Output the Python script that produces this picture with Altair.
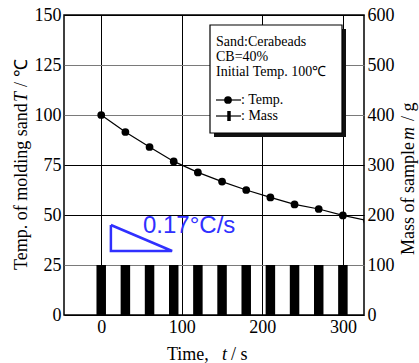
import altair as alt
import pandas as pd

# Temperature of the molding sand (sampled every 30 s)
time_s = [0, 30, 60, 90, 120, 150, 180, 210, 240, 270, 300, 330]
temp_c = [100.0, 91.5, 84.0, 76.8, 71.3, 66.7, 62.5, 58.8, 55.3, 53.0, 49.8, 47.2]

# Mass of the sample at each weighing
mass_time_s = [0, 30, 60, 90, 120, 150, 180, 210, 240, 270, 300]
mass_g = [100, 100, 100, 100, 100, 100, 100, 100, 100, 100, 100]

# Slope triangle (cooling rate guide) and its label
slope_t = [12, 12, 88, 12]
slope_T = [45, 32, 32, 45]
slope_label = "0.17°C/s"

x_ticks = [0, 100, 200, 300]
temp_ticks = [0, 25, 50, 75, 100, 125, 150]
mass_ticks = [0, 100, 200, 300, 400, 500, 600]

info_lines = ["Sand:Cerabeads", "CB=40%", "Initial Temp. 100℃"]
legend_labels = [": Temp.", ": Mass"]

SERIF = "'Times New Roman', 'Liberation Serif', serif"
SANS = "Arial, 'Liberation Sans', sans-serif"
BLUE = "#3030ff"

x_scale = alt.Scale(domain=[-40, 320], nice=False, zero=False)
x_axis = alt.Axis(values=x_ticks, grid=True, gridColor="black", gridWidth=1,
                  ticks=False, domain=False, labelFont=SERIF, labelFontSize=18,
                  labelColor="black", labelPadding=3, title=None)
temp_scale = alt.Scale(domain=[0, 150], nice=False)
temp_axis = alt.Axis(values=temp_ticks, grid=True, gridWidth=1,
                     gridColor={"condition": {"test": "datum.value == 50 || datum.value == 75 || datum.value == 0 || datum.value == 150",
                                              "value": "black"}, "value": "#7a7a7a"},
                     ticks=False, domain=False, labelFont=SERIF, labelFontSize=18,
                     labelColor="black", labelPadding=3, title=None, orient="left")
mass_scale = alt.Scale(domain=[0, 600], nice=False)
mass_axis = alt.Axis(values=mass_ticks, grid=False, ticks=False, domain=False,
                     labelFont=SERIF, labelFontSize=18, labelColor="black",
                     labelPadding=3, title=None, orient="right")

temp_df = pd.DataFrame({"t": time_s, "T": temp_c})
mass_df = pd.DataFrame({"t": mass_time_s, "m": mass_g})
slope_df = pd.DataFrame({"t": slope_t, "T": slope_T, "i": list(range(len(slope_t)))})

X = alt.X("t:Q", scale=x_scale, axis=x_axis)
Y = alt.Y("T:Q", scale=temp_scale, axis=temp_axis)

temp_line = alt.Chart(temp_df).mark_line(color="black", strokeWidth=1.2, clip=True).encode(x=X, y=Y)
temp_pts = alt.Chart(temp_df).mark_point(filled=True, color="black", opacity=1, size=60, clip=True).encode(x=X, y=Y)
slope_tri = alt.Chart(slope_df).mark_line(color=BLUE, strokeWidth=2.5, strokeJoin="miter").encode(
    x=X, y=Y, order=alt.Order("i:Q"))

one = pd.DataFrame({"k": [0]})


def label(text, x, y, size=18, font=SERIF, style="normal", angle=0, align="left",
          baseline="alphabetic", color="black"):
    return alt.Chart(one).mark_text(text=text, font=font, fontSize=size, fontStyle=style,
                                    angle=angle, align=align, baseline=baseline,
                                    color=color).encode(x=alt.value(x), y=alt.value(y))


slope_txt = label(slope_label, 79, 218, size=24, font=SANS, color=BLUE)

temp_group = alt.layer(temp_line, temp_pts, slope_tri, slope_txt)

mass_bars = alt.Chart(mass_df).mark_bar(size=9.5, color="black").encode(
    x=X, y=alt.Y("m:Q", scale=mass_scale, axis=mass_axis))

# Info box with drop shadow
box_shadow = alt.Chart(one).mark_rect(color="#111111").encode(
    x=alt.value(150), x2=alt.value(282), y=alt.value(14), y2=alt.value(122))
box = alt.Chart(one).mark_rect(fill="white", stroke="black", strokeWidth=1.2).encode(
    x=alt.value(146), x2=alt.value(278), y=alt.value(10), y2=alt.value(118))

info = [label(s, 152, 27 + 15 * i, size=14, baseline="middle") for i, s in enumerate(info_lines)]

key_temp_line = alt.Chart(one).mark_rule(color="black", strokeWidth=1.2).encode(
    x=alt.value(152), x2=alt.value(177), y=alt.value(85))
key_temp_pt = alt.Chart(one).mark_point(filled=True, color="black", opacity=1, size=60).encode(
    x=alt.value(164), y=alt.value(85))
key_mass_line = alt.Chart(one).mark_rule(color="black", strokeWidth=1.2).encode(
    x=alt.value(152), x2=alt.value(177), y=alt.value(101))
key_mass_bar = alt.Chart(one).mark_rule(color="black", strokeWidth=3.5).encode(
    x=alt.value(165), y=alt.value(96), y2=alt.value(106))
key_text = [label(s, 177, 85 + 16 * i, size=14, baseline="middle") for i, s in enumerate(legend_labels)]

# Axis titles with italic symbols
titles = [
    label("Temp. of molding sand", -37, 255, angle=270),
    label("T", -37, 87, angle=270, style="italic"),
    label("/ ℃", -37, 72, angle=270),
    label("Mass of sample", 350, 240, angle=270),
    label("m", 350, 125, angle=270, style="italic"),
    label("/ g", 350, 106, angle=270),
    label("Time,", 103, 345),
    label("t", 158, 345, style="italic"),
    label("/ s", 167, 345),
]

chart = alt.layer(
    temp_group, mass_bars, box_shadow, box, *info,
    key_temp_line, key_temp_pt, key_mass_line, key_mass_bar, *key_text, *titles
).resolve_scale(y="independent").properties(
    width=300, height=300,
    autosize=alt.AutoSizeParams(type="none"),
    padding={"left": 64, "top": 15, "right": 55, "bottom": 48},
).configure(
    font=SERIF, background="white"
).configure_view(
    stroke="black", strokeWidth=1.5
).configure_axis(
    labelFont=SERIF, labelFontSize=18, labelColor="black"
).configure_text(font=SERIF)

chart.save("out.html", embed_options={"renderer": "svg", "actions": False})
